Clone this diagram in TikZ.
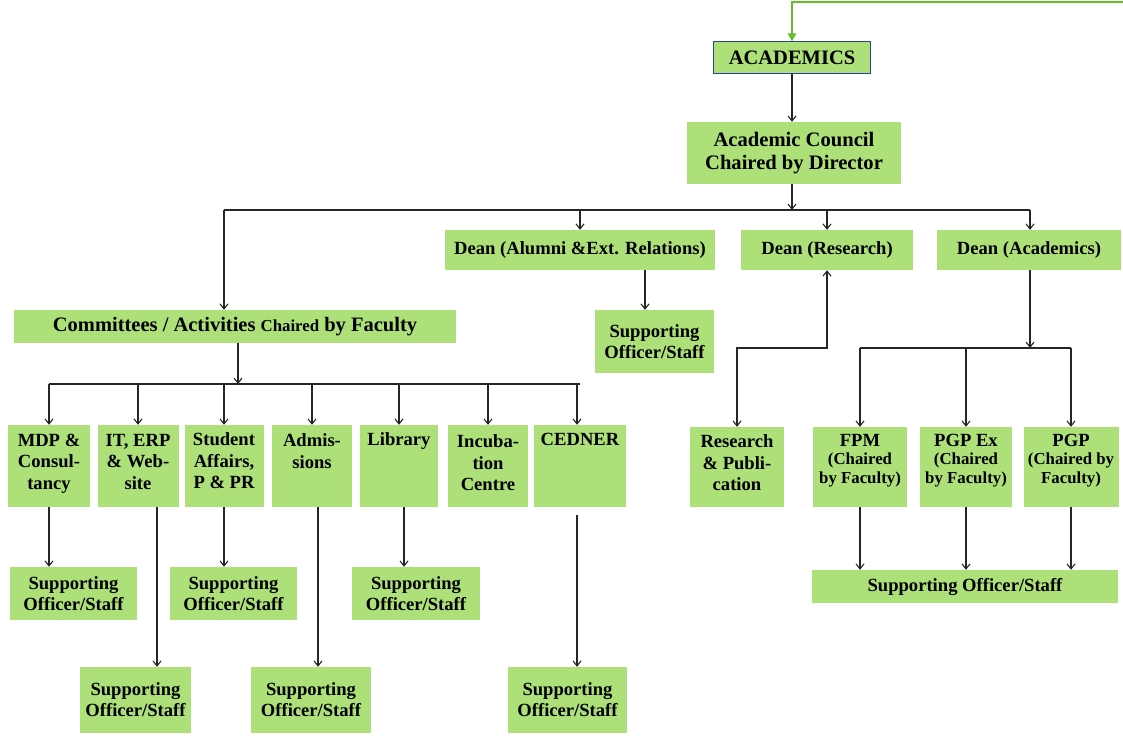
\documentclass[tikz,border=0pt]{standalone}
\usepackage{fontspec}
\setmainfont{Liberation Serif}
\usetikzlibrary{arrows.meta}
\definecolor{boxgreen}{RGB}{174,224,122}
\definecolor{linegreen}{RGB}{98,190,42}
\definecolor{bordblue}{RGB}{40,60,170}
\tikzset{
  gbox/.style={fill=boxgreen, draw=none, inner sep=0pt, align=center,
    font=\bfseries\fontsize{18.6}{21}\selectfont},
  btext/.style={inner sep=0pt, align=center, anchor=north,
    font=\bfseries\fontsize{18.6}{21.5}\selectfont},
  arr/.style={draw=black!85, line width=1.1pt, -{Straight Barb[length=5pt,width=8pt]}},
  arrtwo/.style={draw=black!85, line width=1.1pt, {Straight Barb[length=5pt,width=8pt]}-{Straight Barb[length=5pt,width=8pt]}},
  plain/.style={draw=black!85, line width=1.1pt},
  garr/.style={draw=linegreen, line width=2.2pt, -{Triangle[length=8pt,width=8pt]}},
}
\newcommand{\smallch}{\fontsize{16.8}{19}\selectfont}
\begin{document}
\begin{tikzpicture}[x=1pt,y=-1pt]
\useasboundingbox (0,0) rectangle (1123,741);
% top
\node[gbox, draw=bordblue, line width=1pt, minimum width=157pt, minimum height=32pt,
  font=\bfseries\fontsize{20.5}{22}\selectfont] (acad) at (792,58) {ACADEMICS};
\node[gbox, minimum width=214pt, minimum height=62pt,
  font=\bfseries\fontsize{20.6}{22.5}\selectfont] (council) at (794,153) {Academic Council\\Chaired by Director};
\coordinate (gstart) at (1123,2);
\draw[garr] (gstart) -| (acad.north);
\draw[arr] (acad.south) -- (acad.south |- council.north);
% deans
\node[gbox, minimum width=270pt, minimum height=40pt] (alumni) at (580,250) {Dean (Alumni \&Ext. Relations)};
\node[gbox, minimum width=172pt, minimum height=40pt] (research) at (827,250) {Dean (Research)};
\node[gbox, minimum width=184pt, minimum height=40pt] (deanac) at (1029,250) {Dean (Academics)};
\node[gbox, minimum width=119pt, minimum height=63pt] (supalum) at (654.5,341.5) {Supporting\\Officer/Staff};
\node[gbox, minimum width=442pt, minimum height=33pt,
  font=\bfseries\fontsize{20.5}{22}\selectfont] (comm) at (235,326.5)
  {Committees / Activities {\smallch Chaired} by Faculty};
\coordinate (barL) at (224,210);
\coordinate (barR) at (1030,210);
\coordinate (barC) at (792,210);
\draw[arr] ([xshift=-2pt]council.south) -- (barC);
\draw[plain] (barL) -- (barR);
\draw[arr] (barL) -- (barL |- comm.north);
\draw[arr] (alumni.north |- barL) -- (alumni.north);
\draw[arr] (research.north |- barL) -- (research.north);
\draw[arr] (barR) -- (barR |- deanac.north);
\draw[arr] ([xshift=-9.5pt]supalum.north |- alumni.south) -- ([xshift=-9.5pt]supalum.north);
% committee row
\foreach \n/\x/\w in {mdp/49/82, it/138/81, stud/224/79, adm/312/80, lib/399/78, inc/488/80, ced/580/92}{
  \node[gbox, minimum width=\w pt, minimum height=82pt] (\n) at (\x,466) {};
}
\node[btext] (tmdp) at ([yshift=-9pt]mdp.north) {MDP \&\\Consul-\\tancy};
\node[btext] (tit) at ([yshift=-9pt]it.north) {IT, ERP\\\& Web-\\site};
\node[btext] (tstud) at ([yshift=-8pt]stud.north) {Student\\Affairs,\\P \& PR};
\node[btext] (tadm) at ([yshift=-9pt]adm.north) {Admis-\\sions};
\node[btext] (tlib) at ([yshift=-8pt]lib.north) {Library};
\node[btext] (tinc) at ([yshift=-10pt]inc.north) {Incuba-\\tion\\Centre};
\node[btext] (tced) at ([yshift=-8pt]ced.north) {CEDNER};
\coordinate (cbar) at (238,384);
\draw[arr] (cbar |- comm.south) -- (cbar);
\draw[plain] (mdp.north |- cbar) -- (ced.north |- cbar);
\foreach \n in {mdp,it,stud,adm,lib,inc}{
  \draw[arr] (\n.north |- cbar) -- (\n.north);
}
\draw[arr] ([xshift=-3pt]ced.north |- cbar) -- ([xshift=-3pt]ced.north);
% supporting boxes
\node[gbox, minimum width=127pt, minimum height=53pt] (s1) at (73.5,593.5) {Supporting\\Officer/Staff};
\node[gbox, minimum width=127pt, minimum height=53pt] (s3) at (233.5,593.5) {Supporting\\Officer/Staff};
\node[gbox, minimum width=128pt, minimum height=53pt] (s5) at (416,593.5) {Supporting\\Officer/Staff};
\node[gbox, minimum width=111pt, minimum height=66pt] (s2) at (135.5,700) {Supporting\\Officer/Staff};
\node[gbox, minimum width=120pt, minimum height=66pt] (s4) at (311,700) {Supporting\\Officer/Staff};
\node[gbox, minimum width=119pt, minimum height=66pt] (s7) at (567.5,700) {Supporting\\Officer/Staff};
\draw[arr] (mdp.south) -- (mdp.south |- s1.north);
\draw[arr] ([xshift=19pt]it.south) -- ([xshift=19pt]it.south |- s2.north);
\draw[arr] (stud.south) -- (stud.south |- s3.north);
\draw[arr] ([xshift=6pt]adm.south) -- ([xshift=6pt]adm.south |- s4.north);
\draw[arr] ([xshift=5pt]lib.south) -- ([xshift=5pt]lib.south |- s5.north);
\draw[arr] ([xshift=-3pt,yshift=-8pt]ced.south) -- ([xshift=-3pt]ced.south |- s7.north);
% right side
\node[gbox, minimum width=94pt, minimum height=80pt] (resp) at (737,467) {};
\node[btext] (tresp) at ([yshift=-8pt]resp.north) {Research\\\& Publi-\\cation};
\node[gbox, minimum width=94pt, minimum height=80pt] (fpm) at (860,467) {};
\node[gbox, minimum width=92pt, minimum height=80pt] (pgpex) at (966,467) {};
\node[gbox, minimum width=95pt, minimum height=80pt] (pgp) at (1071,467) {};
\node[btext] (tfpm) at ([yshift=-7pt]fpm.north) {FPM\\[-3pt]{\smallch (Chaired}\\[-3pt]{\smallch by Faculty)}};
\node[btext] (tpgpex) at ([yshift=-7pt]pgpex.north) {PGP Ex\\[-3pt]{\smallch (Chaired}\\[-3pt]{\smallch by Faculty)}};
\node[btext] (tpgp) at ([yshift=-7pt]pgp.north) {PGP\\[-3pt]{\smallch (Chaired by}\\[-3pt]{\smallch Faculty)}};
\node[gbox, minimum width=306pt, minimum height=33pt] (supbig) at (965,586.5) {Supporting Officer/Staff};
\coordinate (mid) at (900,348);
\draw[arrtwo] (research.south) -- (research.south |- mid) -| (resp.north);
\draw[arr] ([xshift=1pt]deanac.south) -- ([xshift=1pt]deanac.south |- mid);
\draw[plain] (fpm.north |- mid) -- (pgp.north |- mid);
\foreach \n in {fpm,pgpex,pgp}{
  \draw[arr] (\n.north |- mid) -- (\n.north);
  \draw[arr] (\n.south) -- (\n.south |- supbig.north);
}
\end{tikzpicture}
\end{document}
